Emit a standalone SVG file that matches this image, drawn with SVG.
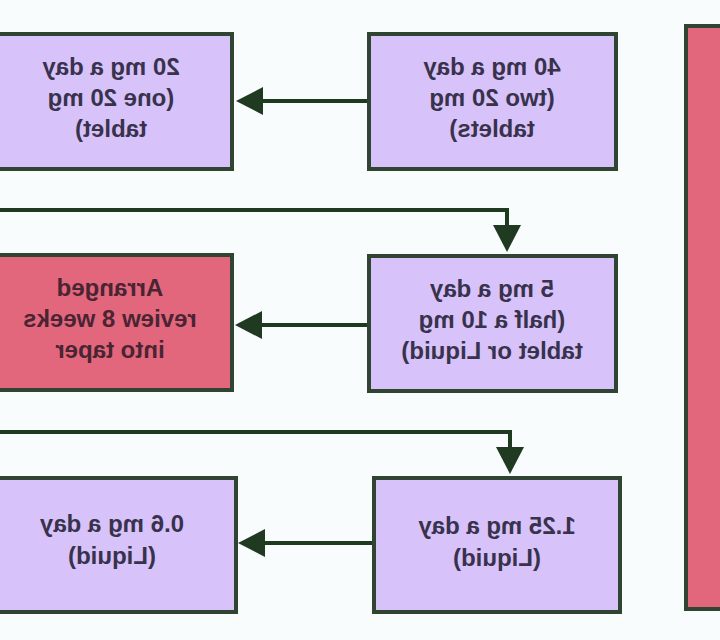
<svg xmlns="http://www.w3.org/2000/svg" width="720" height="640" viewBox="0 0 720 640">
<style>
.box{stroke:#2f4431;stroke-width:4}
.lav{fill:#d7c2f9}
.pink{fill:#e2677c}
.t{font-family:"Liberation Sans",Arial,sans-serif;font-weight:bold;font-size:24px;text-anchor:middle;fill:#38324c}
.tp{fill:#4a2432}
.c{fill:none;stroke:#1f3a20;stroke-width:4}
</style>
<defs>
<marker id="ah" markerUnits="userSpaceOnUse" markerWidth="28" markerHeight="30" refX="0" refY="14" orient="auto" overflow="visible">
<path d="M0,0 L27,14 L0,28 z" fill="#1f3a20"/>
</marker>
</defs>
<rect width="720" height="640" fill="#f9fcfc"/>
<g id="connectors">
<path class="c" d="M367,101 H263" marker-end="url(#ah)"/>
<path class="c" d="M-5,210 H507 V225" marker-end="url(#ah)"/>
<path class="c" d="M367,325 H262" marker-end="url(#ah)"/>
<path class="c" d="M-5,432 H510 V447" marker-end="url(#ah)"/>
<path class="c" d="M372,543 H265" marker-end="url(#ah)"/>
</g>
<g id="node-20mg">
<rect class="box lav" x="-12" y="34" width="244" height="135"/>
<text class="t" transform="scale(-1,1)" x="-111" y="75">20 mg a day</text>
<text class="t" transform="scale(-1,1)" x="-111" y="106">(one 20 mg</text>
<text class="t" transform="scale(-1,1)" x="-111" y="137">tablet)</text>
</g>
<g id="node-40mg">
<rect class="box lav" x="369" y="34" width="247" height="135"/>
<text class="t" transform="scale(-1,1)" x="-492" y="75">40 mg a day</text>
<text class="t" transform="scale(-1,1)" x="-492" y="106">(two 20 mg</text>
<text class="t" transform="scale(-1,1)" x="-492" y="137">tablets)</text>
</g>
<g id="node-review">
<rect class="box pink" x="-12" y="255" width="244" height="135"/>
<text class="t tp" transform="scale(-1,1)" x="-110" y="296">Arranged</text>
<text class="t tp" transform="scale(-1,1)" x="-110" y="327">review 8 weeks</text>
<text class="t tp" transform="scale(-1,1)" x="-110" y="358">into taper</text>
</g>
<g id="node-5mg">
<rect class="box lav" x="369" y="256" width="247" height="135"/>
<text class="t" transform="scale(-1,1)" x="-492" y="297">5 mg a day</text>
<text class="t" transform="scale(-1,1)" x="-492" y="328">(half a 10 mg</text>
<text class="t" transform="scale(-1,1)" x="-492" y="359">tablet or Liquid)</text>
</g>
<g id="node-06mg">
<rect class="box lav" x="-12" y="478" width="248" height="134"/>
<text class="t" transform="scale(-1,1)" x="-112" y="532">0.6 mg a day</text>
<text class="t" transform="scale(-1,1)" x="-112" y="564">(Liquid)</text>
</g>
<g id="node-125mg">
<rect class="box lav" x="374" y="478" width="246" height="134"/>
<text class="t" transform="scale(-1,1)" x="-497" y="534">1.25 mg a day</text>
<text class="t" transform="scale(-1,1)" x="-497" y="566">(Liquid)</text>
</g>
<g id="node-side">
<rect class="box pink" x="686" y="26" width="60" height="583"/>
</g>
</svg>
